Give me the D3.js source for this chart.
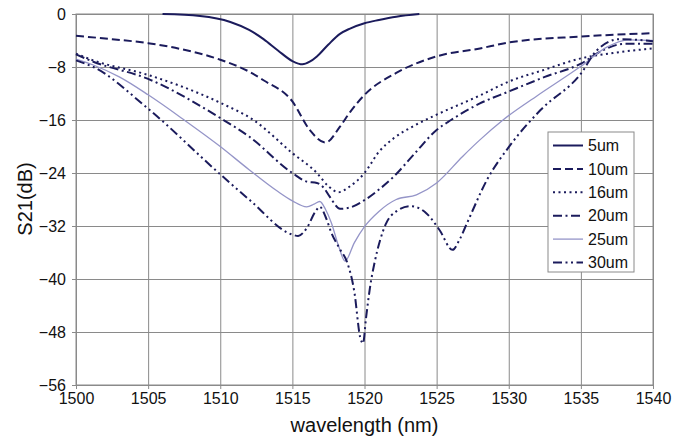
<!DOCTYPE html>
<html>
<head>
<meta charset="utf-8">
<script src="https://cdn.jsdelivr.net/npm/d3@7"></script>
<style>
  body { margin: 0; background: #fff; }
  svg { font-family: "Liberation Sans", Arial, sans-serif; }
  .grid line { stroke: #8a8a8a; stroke-width: 1; }
  .grid path { stroke: #8a8a8a; }
  .tick text { fill: #111; font-size: 16px; }
</style>
</head>
<body>
<div id="chart"></div>
<script>
// Data: [wavelength nm, S21 dB]
const s5um = [[1506, 0], [1508.6, -0.3], [1510.7, -1.2], [1512, -2.4], [1513, -3.8], [1514, -5.5],
    [1515, -7.1], [1515.7, -7.6], [1516.2, -7.2], [1516.7, -6.4], [1517.5, -4.6], [1518.3, -3.0],
    [1519, -2.2], [1520, -1.4], [1521, -0.9], [1522.2, -0.4], [1523.8, 0]];
const s10um = [[1500, -3.3], [1502.5, -3.8], [1505, -4.4], [1507.5, -5.4], [1510, -6.9], [1512, -8.7],
    [1513, -10], [1515, -13.2], [1516.2, -17.5], [1517.3, -19.4], [1518.3, -17], [1519, -14.8],
    [1520, -12.2], [1522.2, -8.9], [1525, -6.4], [1528, -5.2], [1530, -4.3], [1535, -3.4], [1540, -2.9]];
const s16um = [[1500, -6.0], [1501.2, -7], [1505, -9.2], [1510, -13.4], [1512.3, -16], [1515, -21],
    [1516.7, -24], [1517.5, -26], [1518.2, -26.9], [1519, -26], [1520, -24], [1521, -20.8],
    [1522, -18.8], [1523.5, -16.8], [1525, -15.2], [1528, -12.3], [1530, -10.2], [1532.5, -8.4],
    [1535, -6.7], [1537.5, -5.8], [1540, -5.2]];
const s20um = [[1500, -6.1], [1501.2, -7.2], [1505, -9.8], [1510, -15.7], [1512, -18.5], [1515, -24],
    [1516, -25.3], [1516.7, -25.5], [1517.2, -26.3], [1517.6, -27.6], [1518.3, -29.4], [1519, -29.2],
    [1520, -28.1], [1521, -26.5], [1522, -24.6], [1523.5, -21], [1525, -17.5], [1526, -16],
    [1528, -13.5], [1530, -11.7], [1532.5, -9.5], [1535, -7.5], [1536.5, -5.5], [1538, -4.5], [1540, -4.5]];
const s25um = [[1500, -6.8], [1501.2, -7.7], [1503, -9.5], [1505, -12.2], [1507.5, -16], [1510, -20],
    [1512, -23.5], [1514, -26.8], [1515, -28.2], [1516, -29.1], [1516.5, -28.7], [1516.9, -28.3],
    [1517.3, -29.5], [1517.7, -31.5], [1518.2, -35], [1518.65, -37.3], [1519.3, -34.5], [1520, -32.1],
    [1521, -29.8], [1522.2, -28], [1523.6, -27.3], [1525, -25.5], [1526.8, -21.5], [1528, -19],
    [1529.6, -16], [1532, -12.3], [1535, -7.9], [1536.8, -5], [1538.3, -3.9], [1540, -4]];
const s30um = [[1500, -7.0], [1501.2, -8], [1505, -14.3], [1510, -24.2], [1512, -28], [1515, -33.3],
    [1515.4, -33.5], [1516, -32.3], [1516.6, -29.8], [1516.9, -29.1], [1517.3, -30.6], [1517.7, -33],
    [1518.3, -35.5], [1518.8, -37.5], [1519.3, -42], [1519.7, -48.8], [1519.9, -49.7], [1520.1, -46],
    [1520.4, -41], [1520.7, -37.5], [1521.1, -34], [1521.5, -31.6], [1522.2, -29.8], [1523.2, -29],
    [1524.3, -30.1], [1525.2, -32.6], [1526.1, -35.6], [1526.6, -34], [1527.1, -31.6], [1528.5, -25],
    [1530.1, -19.8], [1532.2, -14.5], [1535, -9], [1536.1, -5.5], [1537.7, -3.8], [1540, -4.1]];

const seriesNames = ['5um', '10um', '16um', '20um', '25um', '30um'];
const xTicks = [1500, 1505, 1510, 1515, 1520, 1525, 1530, 1535, 1540];
const yTicks = [0, -8, -16, -24, -32, -40, -48, -56];

const chart = {
    totalWidth: 684,
    totalHeight: 438,
    margin: { top: 14, left: 76, right: 31, bottom: 53 }
};
chart.width = chart.totalWidth - chart.margin.left - chart.margin.right;
chart.height = chart.totalHeight - chart.margin.top - chart.margin.bottom;

const dark = '#1b1b5c';
const styles = [
    { color: dark, width: 2, dash: null },
    { color: dark, width: 2, dash: '8,4' },
    { color: dark, width: 2, dash: '2,3.5' },
    { color: dark, width: 2, dash: '9,3.5,2,3.5' },
    { color: '#9595c8', width: 1.3, dash: null },
    { color: dark, width: 2, dash: '9,3.5,2,3.5,2,3.5' }
];
const data = [s5um, s10um, s16um, s20um, s25um, s30um].map((v, i) => ({
    id: seriesNames[i], values: v, style: styles[i]
}));

const svg = d3.select('#chart')
    .append('svg')
    .attr('width', chart.totalWidth)
    .attr('height', chart.totalHeight);

const g = svg.append('g')
    .attr('transform', `translate(${chart.margin.left}, ${chart.margin.top})`);

const xScale = d3.scaleLinear().domain([1500, 1540]).range([0, chart.width]);
const yScale = d3.scaleLinear().domain([-56, 0]).range([chart.height, 0]);

// grid + axes
const yAxis = d3.axisLeft(yScale)
    .tickValues(yTicks)
    .tickSize(-chart.width)
    .tickPadding(10)
    .tickFormat(d3.format('d'));
g.append('g').classed('grid', true).call(yAxis)
    .call(s => s.selectAll('.tick line').attr('x1', -4))
    .call(s => s.select('.domain').remove());

const xAxis = d3.axisBottom(xScale)
    .tickValues(xTicks)
    .tickSize(-chart.height)
    .tickPadding(8)
    .tickFormat(d3.format('d'));
g.append('g').classed('grid', true)
    .attr('transform', `translate(0, ${chart.height})`)
    .call(xAxis)
    .call(s => s.selectAll('.tick line').attr('y1', 4))
    .call(s => s.select('.domain').remove());

g.append('rect')
    .attr('width', chart.width)
    .attr('height', chart.height)
    .attr('fill', 'none')
    .attr('stroke', '#8a8a8a');

// lines
const line = d3.line()
    .curve(d3.curveMonotoneX)
    .x(d => xScale(d[0]))
    .y(d => yScale(d[1]));

g.append('g').classed('lines', true)
    .selectAll('path')
    .data(data)
    .enter()
    .append('path')
    .attr('fill', 'none')
    .attr('stroke', d => d.style.color)
    .attr('stroke-width', d => d.style.width)
    .attr('stroke-dasharray', d => d.style.dash)
    .attr('d', d => line(d.values));

// axis titles
svg.append('text')
    .attr('transform', `translate(${chart.margin.left + chart.width / 2}, 432)`)
    .attr('text-anchor', 'middle')
    .attr('font-size', 20)
    .attr('fill', '#111')
    .text('wavelength (nm)');

svg.append('text')
    .attr('transform', `translate(32, 199) rotate(-90)`)
    .attr('text-anchor', 'middle')
    .attr('font-size', 20)
    .attr('fill', '#111')
    .text('S21(dB)');

// legend
const legend = svg.append('g')
    .attr('transform', 'translate(548, 132)');
legend.append('rect')
    .attr('width', 86)
    .attr('height', 140)
    .attr('fill', '#fff')
    .attr('stroke', '#8a8a8a');
const items = legend.selectAll('.item')
    .data(data)
    .enter()
    .append('g')
    .attr('transform', (d, i) => `translate(0, ${13.5 + i * 23.4})`);
items.append('line')
    .attr('x1', 5).attr('x2', 35)
    .attr('stroke', d => d.style.color)
    .attr('stroke-width', d => d.style.width)
    .attr('stroke-dasharray', d => d.style.dash);
items.append('text')
    .attr('x', 40)
    .attr('dy', '0.36em')
    .attr('font-size', 16)
    .attr('fill', '#111')
    .text(d => d.id);
</script>
</body>
</html>
